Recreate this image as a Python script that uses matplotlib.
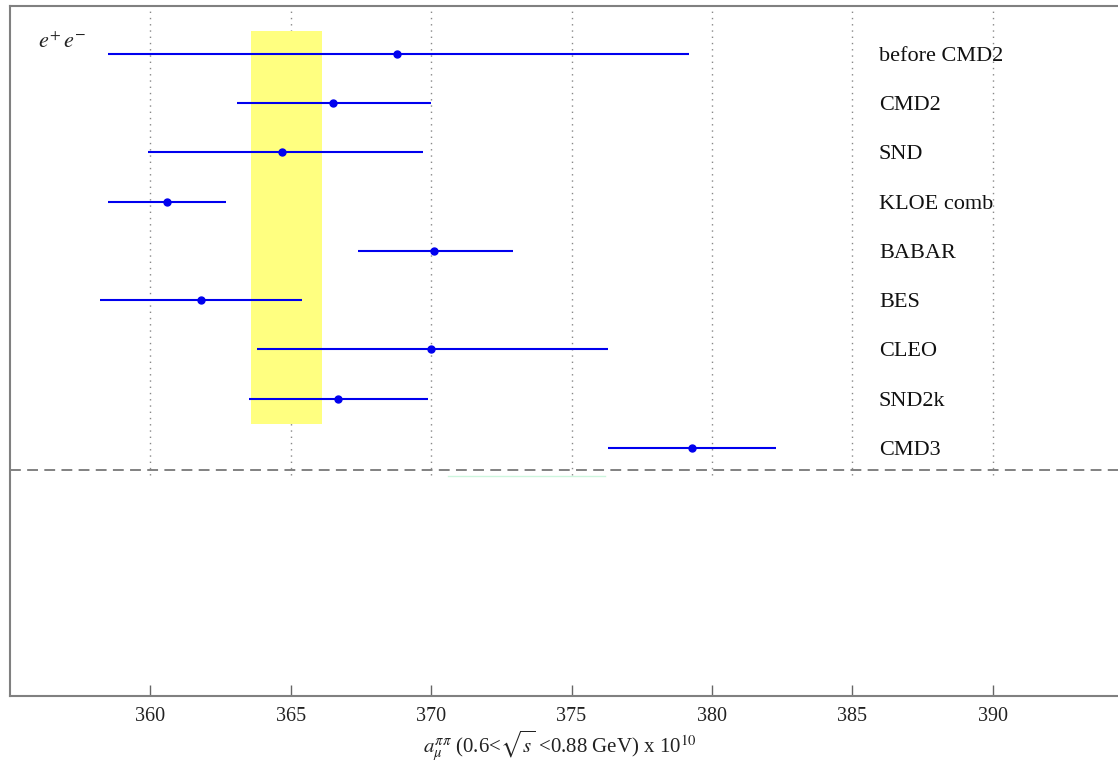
import matplotlib
matplotlib.use('Agg')
import matplotlib.pyplot as plt
import numpy as np

# experiments, top to bottom
labels = ['before CMD2', 'CMD2', 'SND', 'KLOE comb', 'BABAR', 'BES', 'CLEO', 'SND2k', 'CMD3']
central = [368.8, 366.5, 364.7, 360.6, 370.1, 361.8, 370.0, 366.7, 379.3]
err_lo = [10.3, 3.4, 4.8, 2.1, 2.7, 3.6, 6.2, 3.2, 3.0]
err_hi = [10.4, 3.5, 5.0, 2.1, 2.8, 3.6, 6.3, 3.2, 3.0]

# yellow band (average)
band_lo = 363.6
band_hi = 366.1

xticks = [360, 365, 370, 375, 380, 385, 390]

plt.rcParams['font.family'] = ['Liberation Serif', 'DejaVu Serif']
plt.rcParams['mathtext.fontset'] = 'stix'

fig = plt.figure(figsize=(11.18, 7.65), dpi=100)
ax = fig.add_axes([10/1118, 69/765, 1123/1118, 690/765])

n = len(labels)
ypos = np.arange(n, 0, -1)

ax.fill_between([band_lo, band_hi], 1.49, 9.47, color='#ffff80', zorder=1, linewidth=0)

ax.vlines(xticks, 0.45, 10, colors='#888888', linestyles=(0, (1, 3.5)), linewidth=1.0, zorder=0)
ax.axhline(0.55, color='#777777', linestyle=(0, (6, 3.5)), linewidth=1.3, zorder=2)
ax.plot([370.6, 376.2], [0.43, 0.43], color='#ccf5dd', linewidth=1.0, zorder=2)

ax.errorbar(central, ypos, xerr=[err_lo, err_hi], fmt='o', color='#0000ee',
            ecolor='#0000ee', markersize=5, elinewidth=1.5, capsize=0, zorder=3)

for y, lab in zip(ypos, labels):
    ax.text(385.95, y, lab, fontsize=16, ha='left', va='center_baseline', color='#111111')

ax.text(0.025, 0.947, r'$e^{+}\,e^{-}$', transform=ax.transAxes, fontsize=16,
        ha='left', va='center', color='#222222')

ax.set_xlim(355, 395)
ax.set_ylim(-4.04, 9.97)
ax.set_xticks(xticks)
ax.set_yticks([])
ax.tick_params(axis='x', direction='in', length=8, width=1, colors='#666666',
               labelcolor='#222222', labelsize=14.5, pad=8)
for s in ax.spines.values():
    s.set_color('#808080')
    s.set_linewidth(1.5)
ax.spines['right'].set_visible(False)

fig.text(560/1118, 1 - 746/765,
         r'$a_{\mu}^{\pi\pi}$ (0.6<$\sqrt{s}$ <0.88 GeV) x 10$^{10}$',
         fontsize=15, ha='center', va='center', color='#222222')

fig.savefig('out.png', dpi=100)
